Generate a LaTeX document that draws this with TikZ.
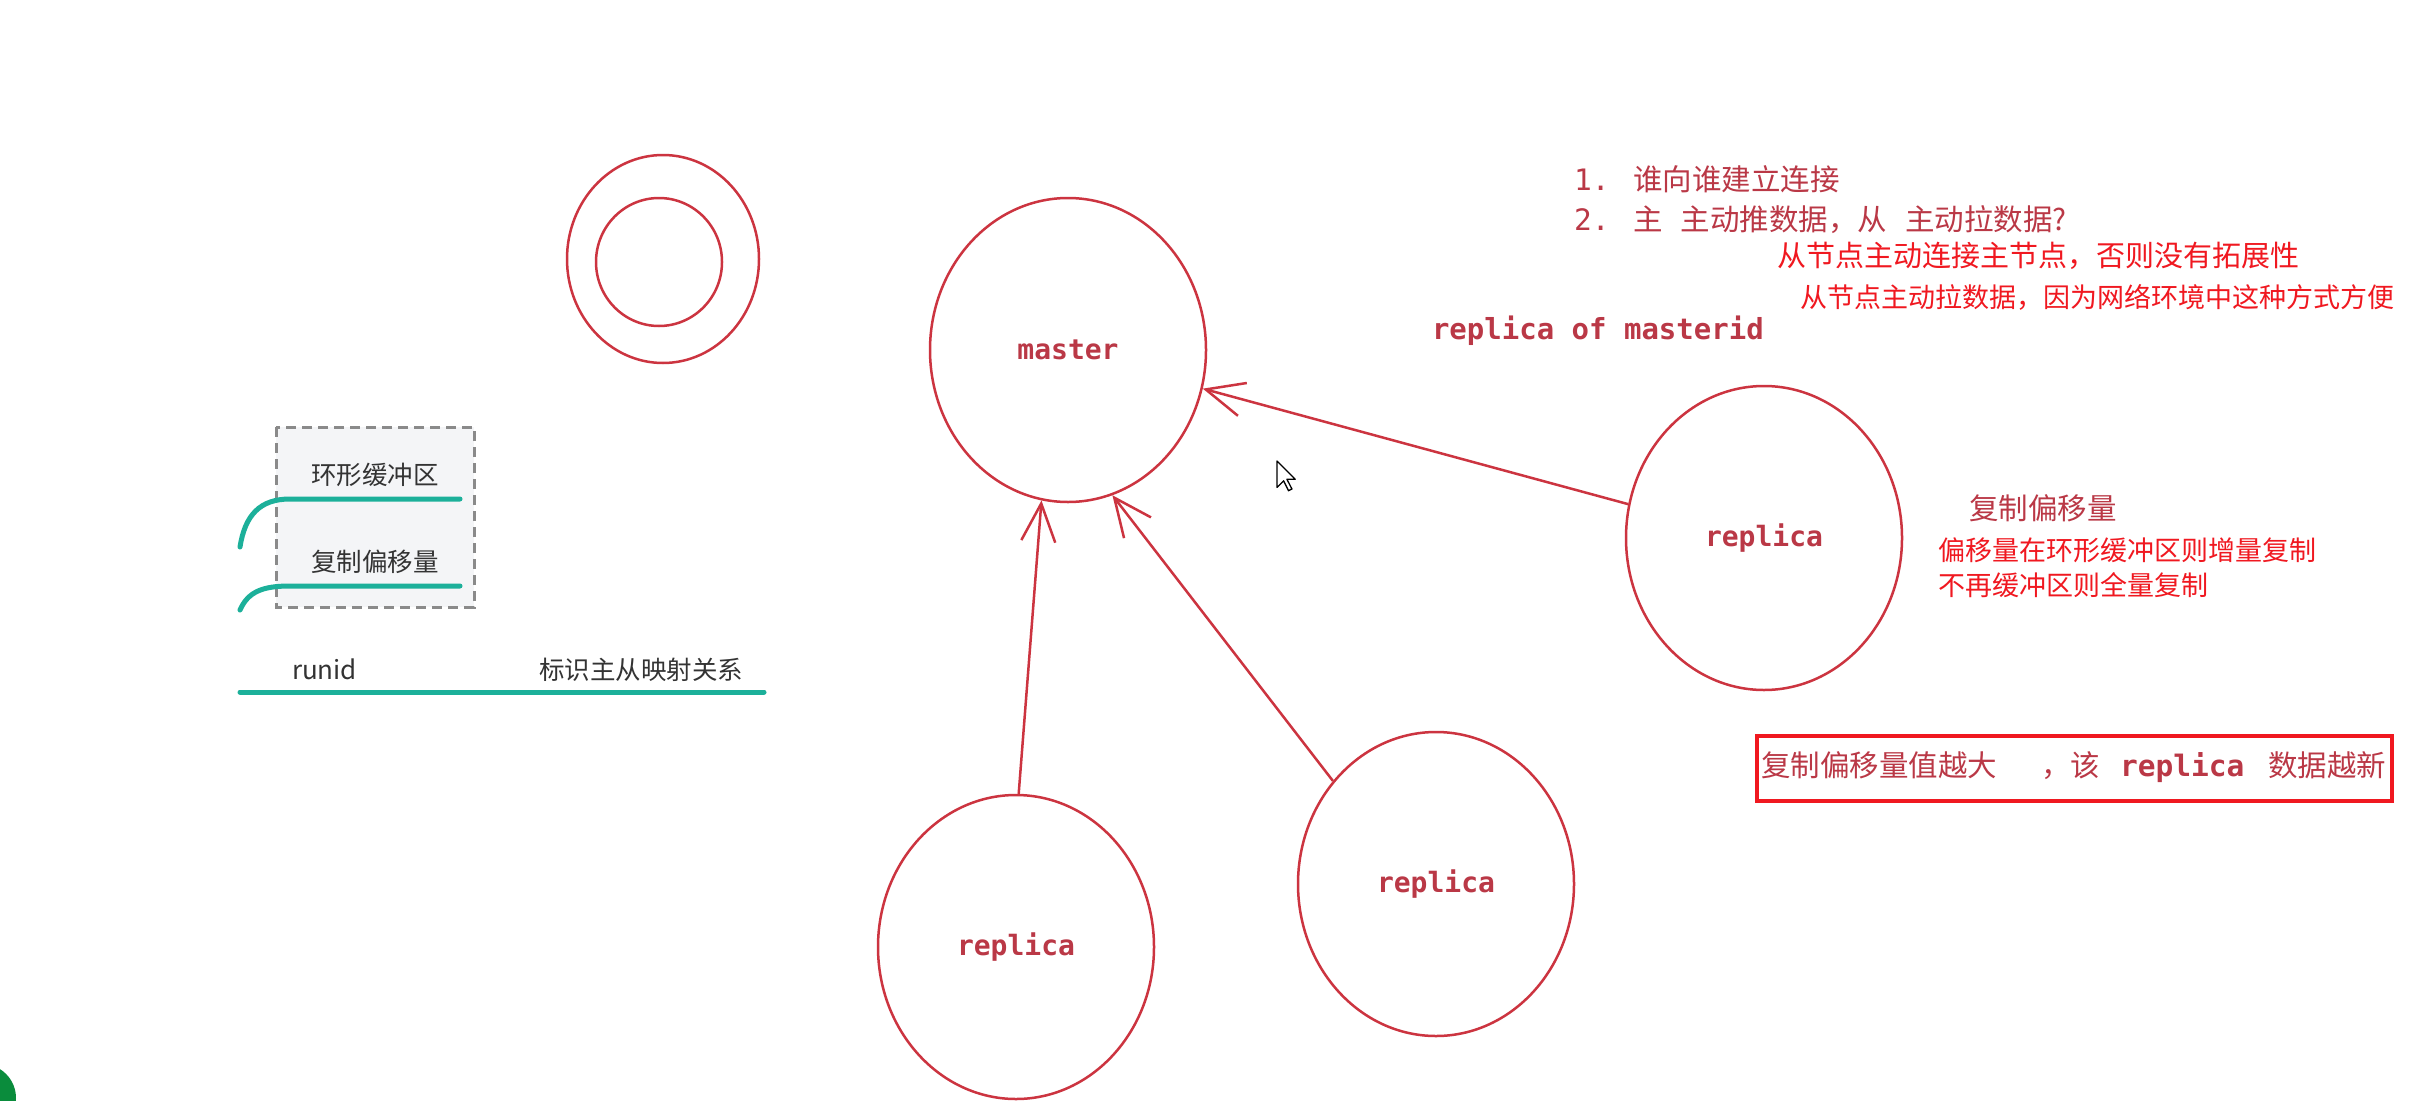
\documentclass[tikz,border=0pt]{standalone}
\usepackage{fontspec}
\newfontfamily\cjk{Noto Sans CJK SC}
\newfontfamily\mono{DejaVu Sans Mono}
\usetikzlibrary{shapes.geometric,arrows.meta}
\definecolor{cred}{RGB}{204,52,64}
\definecolor{dred}{RGB}{186,56,70}
\definecolor{bred}{RGB}{240,24,32}
\definecolor{tealc}{RGB}{28,176,154}
\definecolor{boxgray}{RGB}{138,138,138}
\definecolor{boxfill}{RGB}{244,245,247}
\definecolor{txtgray}{RGB}{51,51,51}
\definecolor{cgreen}{RGB}{10,140,60}
\tikzset{
  rcirc/.style={ellipse, draw=cred, line width=2.5pt, minimum width=276pt, minimum height=304pt,
    inner sep=0pt, text=dred, font=\mono\bfseries\fontsize{28}{32}\selectfont},
  arr/.style={draw=cred, line width=2.5pt, -{Straight Barb[length=38pt,width=34pt]}},
  txt/.style={anchor=west, inner sep=0pt, outer sep=0pt},
  tealline/.style={draw=tealc, line width=5pt, line cap=round},
  grayt/.style={txt, text=txtgray, font=\cjk\fontsize{25.5}{30}\selectfont},
}
\begin{document}
\begin{tikzpicture}[x=1pt,y=-1pt]
\useasboundingbox (0,0) rectangle (2435,1100);
\fill[white] (0,0) rectangle (2435,1100);
\begin{scope}
  \clip (0,0) rectangle (2435,1100);
  \fill[cgreen] (-18,1098) circle[radius=34];
\end{scope}

% double circle
\draw[cred, line width=2.5pt] (663,259) ellipse [x radius=96, y radius=104];
\draw[cred, line width=2.5pt] (659,262) ellipse [x radius=63, y radius=64];

% left mind map fragment
\draw[boxgray, dash pattern=on 10pt off 6pt, line width=3pt, fill=boxfill] (276,427) rectangle (474,607);
\node[grayt] (hx) at (311,475) {环形缓冲区};
\node[grayt] (fzp) at (311,562) {复制偏移量};
\draw[tealline] (240,547) .. controls (245,515) and (260,499) .. (290,499) -- (460,499);
\draw[tealline] (240,610) .. controls (248,592) and (262,586) .. (290,586) -- (460,586);
\node[grayt, font=\cjk\fontsize{26}{30}\selectfont] (runid) at (292,669) {runid};
\node[grayt] (bs) at (539,670) {标识主从映射关系};
\draw[tealline] (240,692) -- (764,692);

% circles
\node[rcirc] (master) at (1068,350) {master};
\node[rcirc] (rl) at (1016,947) {replica};
\node[rcirc] (rm) at (1436,884) {replica};
\node[rcirc] (rr) at (1764,538) {replica};
\draw[arr] (rl.89) -- (master.-100);
\draw[arr] (rm.135.5) -- (master.-73);
\draw[arr] (rr.166.5) -- (master.-16.7);

% cursor
\draw[black, fill=white, line width=1.3pt, line join=round] (1277,461) -- ++(0,26.4) -- ++(6.6,-6.6) -- ++(4.9,9.9) -- ++(3.4,-1.7) -- ++(-5,-9.8) -- ++(8.3,0) -- cycle;

% top right texts
\node[txt, text=dred, font=\cjk\fontsize{29.5}{34}\selectfont] (q1) at (1574,179) {{\mono 1. }谁向谁建立连接};
\node[txt, text=dred, font=\cjk\fontsize{29.5}{34}\selectfont] (q2) at (1574,220) {{\mono 2. }主\hspace{18pt}主动推数据，从\hspace{18pt}主动拉数据?};
\node[txt, text=bred, font=\cjk\fontsize{29}{34}\selectfont] (a1) at (1777,256) {从节点主动连接主节点，否则没有拓展性};
\node[txt, text=bred, font=\cjk\fontsize{27}{32}\selectfont] (a2) at (1800,297) {从节点主动拉数据，因为网络环境中这种方式方便};
\node[txt, text=dred, font=\mono\bfseries\fontsize{29}{34}\selectfont] (rom) at (1432,331) {replica of masterid};

% right texts
\node[txt, text=dred, font=\cjk\fontsize{29.5}{34}\selectfont] (fz) at (1969,508) {复制偏移量};
\node[txt, text=bred, font=\cjk\fontsize{27}{32}\selectfont] (fz1) at (1938,550) {偏移量在环形缓冲区则增量复制};
\node[txt, text=bred, font=\cjk\fontsize{27}{32}\selectfont] (fz2) at (1938,585) {不再缓冲区则全量复制};

% red box
\node[draw=bred, line width=3.5pt, minimum width=635pt, minimum height=65pt, inner sep=0pt] (box) at (2074.5,768.5) {};
\node[txt, text=dred, font=\cjk\fontsize{29.5}{34}\selectfont] (boxt) at (1761,767) {复制偏移量值越大\hspace{44pt}，该\hspace{20pt}{\mono\bfseries replica}\hspace{24pt}数据越新};
\end{tikzpicture}
\end{document}
